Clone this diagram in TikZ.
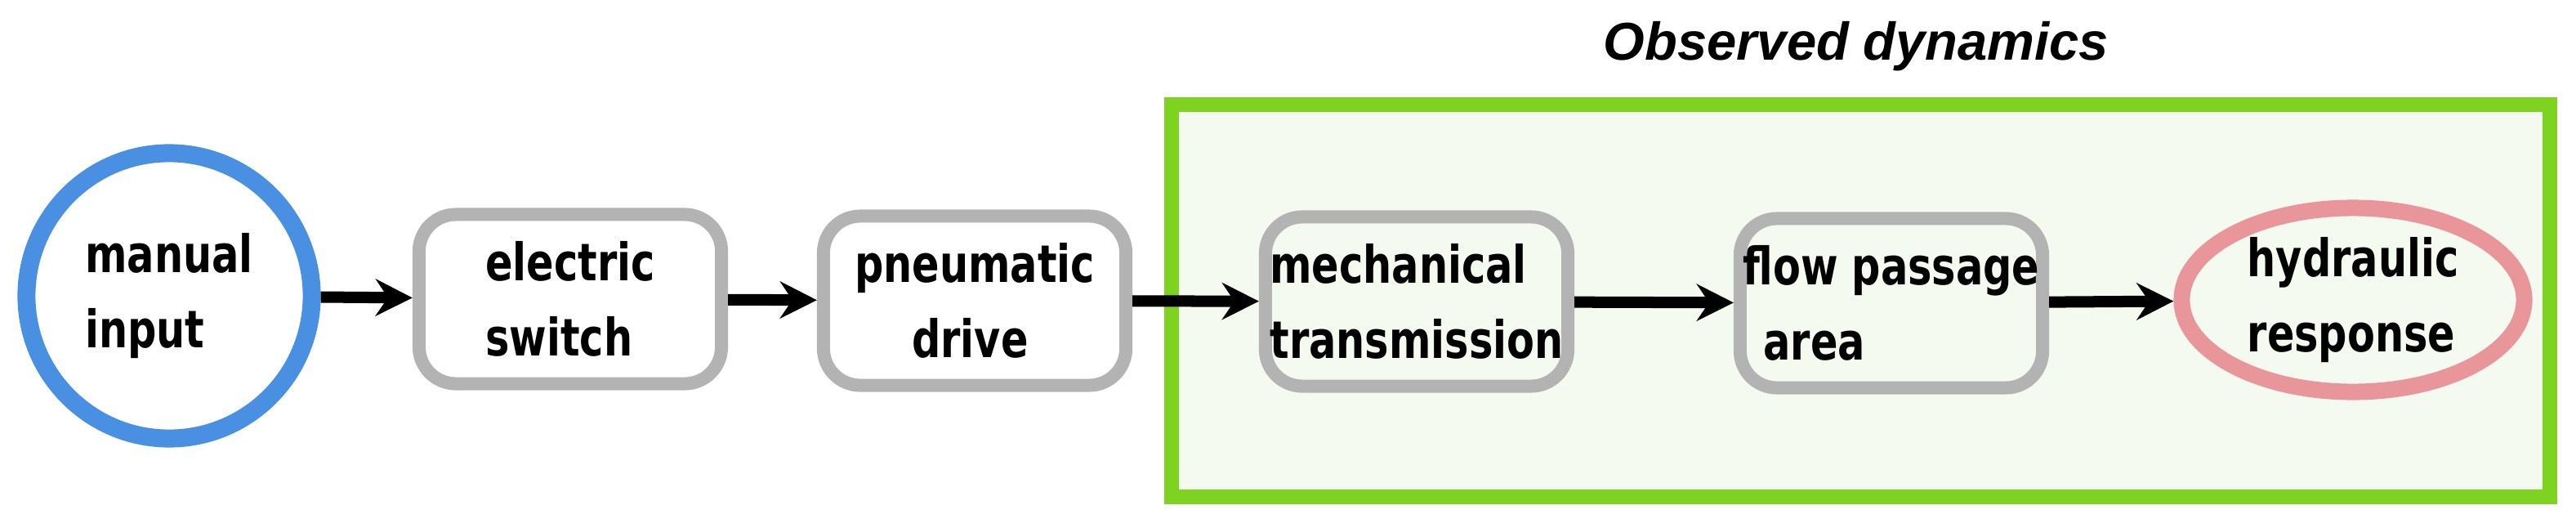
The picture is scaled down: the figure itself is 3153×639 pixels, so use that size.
\documentclass[tikz,border=0pt]{standalone}
\usepackage{fontspec}
\setmainfont{DejaVu Sans}
\newfontfamily\labfont{DejaVu Sans}[FakeStretch=0.78]
\newfontfamily\titfont{Liberation Sans}
\usetikzlibrary{arrows.meta,shapes.geometric}
\definecolor{cblue}{HTML}{4A90E2}
\definecolor{cgray}{HTML}{B3B3B3}
\definecolor{cpink}{HTML}{E8969A}
\definecolor{cgreen}{HTML}{7ED321}
\definecolor{cbg}{HTML}{F5FAF0}
\begin{document}
\begin{tikzpicture}[x=0.01cm,y=-0.01cm,
  lab/.style={font=\labfont\bfseries\fontsize{18pt}{26pt}\selectfont,align=left,inner sep=0},
  box/.style={lab,draw=cgray,line width=0.16cm,rounded corners=0.45cm,fill=white,minimum width=3.70cm,minimum height=2.07cm},
  arr/.style={line width=0.14cm,-{Stealth[length=0.45cm,width=0.45cm,inset=0.15cm]}}]
\useasboundingbox (0,0) rectangle (3153,639);
\node[font=\titfont\bfseries\itshape\fontsize{18.5pt}{22pt}\selectfont] (title) at (2272,57) {Observed dynamics};
\draw[cgreen,line width=0.18cm,fill=cbg] (1434,128) rectangle (3121,608);
\node[lab,draw=cblue,line width=0.22cm,circle,minimum size=3.49cm,fill=white] (mi) at (207,362) {manual\\input};
\node[box] (es) at (698,366) {electric\\switch};
\node[box] (pd) at (1193,368) {pneumatic\\\hspace*{0.7cm}drive};
\node[box,fill=cbg] (mt) at (1734,369) {mechanical\\transmission};
\node[box,fill=cbg] (fp) at (2315,371) {flow passage\\\hspace*{0.25cm}area};
\node[lab,draw=cpink,line width=0.20cm,ellipse,minimum width=4.19cm,minimum height=2.25cm,fill=cbg] (hr) at (2880,367) {hydraulic\\response};
\draw[arr] (mi) -- (es);
\draw[arr] (es) -- (pd);
\draw[arr] (pd) -- (mt);
\draw[arr] (mt) -- (fp);
\draw[arr] (fp) -- (hr);
\end{tikzpicture}
\end{document}
